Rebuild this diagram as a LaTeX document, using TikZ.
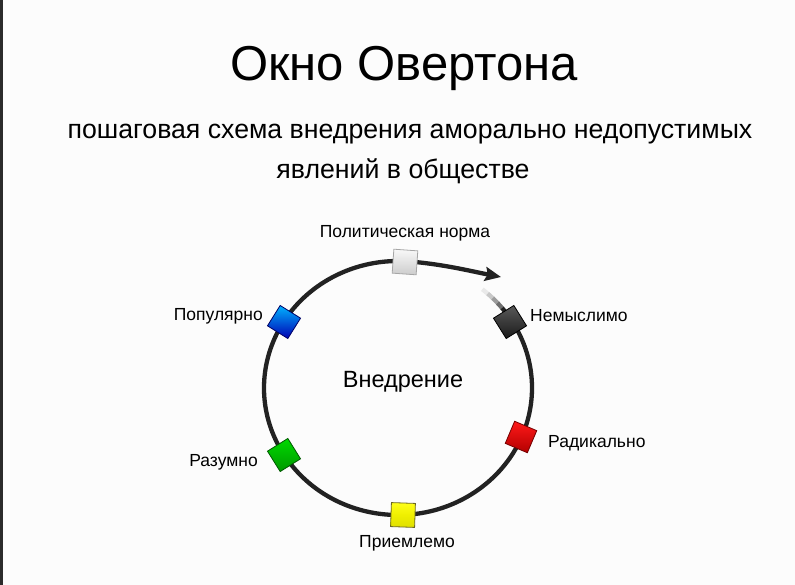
\documentclass[tikz,border=0pt]{standalone}
\usepackage{fontspec}
\setmainfont{Liberation Sans}
\usetikzlibrary{arrows.meta,positioning}
\definecolor{ringcol}{HTML}{222222}
\definecolor{pagebg}{HTML}{FCFCFC}
\definecolor{edgebar}{HTML}{2B2B2B}
\tikzset{
  sq/.style     ={rectangle,minimum size=24pt,inner sep=0pt,line width=0.8pt},
  sqGray/.style ={sq,draw=gray!70,top color=gray!5,bottom color=gray!40},
  sqBlack/.style={sq,draw=black,top color=gray!70!black,bottom color=black!90},
  sqRed/.style  ={sq,draw=red!45!black,top color=red!90,bottom color=red!70!black},
  sqYel/.style  ={sq,draw=olive!70!black,top color=yellow!90,bottom color=yellow!75!olive},
  sqGreen/.style={sq,draw=green!35!black,top color=green!85!black,bottom color=green!60!black},
  sqBlue/.style ={sq,draw=blue!40!black,top color=cyan!70!blue,bottom color=blue!70!black},
  lbl/.style    ={font=\fontsize{17.5}{20}\selectfont,inner sep=0pt},
  ring/.style   ={draw=ringcol,line width=4.3pt},
}

\begin{document}
\begin{tikzpicture}[x=1pt,y=-1pt]
% page
\fill[pagebg] (0,0) rectangle (795,585);
\fill[edgebar] (0,0) rectangle (3,585);
\useasboundingbox (0,0) rectangle (795,585);

% titles
\node[font=\fontsize{49}{56}\selectfont] (title) at (404,68) {Окно Овертона};
\node[font=\fontsize{26.7}{30}\selectfont] (sub1) at (410,134)
  {пошаговая схема внедрения аморально недопустимых};
\node[font=\fontsize{26.7}{30}\selectfont] (sub2) at (403,171)
  {явлений в обществе};

% ring, faded start
\foreach \a/\c in {-51/10,-48/25,-45/45,-42/65}
  \draw[ring,draw=ringcol!\c] (398,388) ++(\a:134 and 127)
    arc[start angle=\a,end angle=\a+3.3,x radius=134,y radius=127];
\draw[ring,-{Stealth[length=16pt,width=14pt,inset=2.5pt]}] (398,388) ++(-39:134 and 127)
  arc[start angle=-39,end angle=275,x radius=134,y radius=127]
  .. controls +(35,3) and (470,271) .. (501,277);

% steps on the ring
\node[sqBlack,rotate=32]  (nem) at (510,322) {};
\node[sqRed,rotate=-23]   (rad) at (521,437) {};
\node[sqYel,rotate=-2]    (pri) at (403,515) {};
\node[sqGreen,rotate=32]  (raz) at (284,455) {};
\node[sqBlue,rotate=-32]  (pop) at (284,322) {};
\node[sqGray,rotate=-4]   (pol) at (405,262) {};

% labels
\node[lbl, above=21pt of pol.center] {Политическая норма};
\node[lbl, right=20pt of nem.center, yshift=6pt] {Немыслимо};
\node[lbl, right=27pt of rad.center, yshift=-6pt] {Радикально};
\node[lbl, below=20pt of pri.center, xshift=4pt] {Приемлемо};
\node[lbl, left=26pt of raz.center, yshift=-7pt] {Разумно};
\node[lbl, left=21pt of pop.center, yshift=6pt] {Популярно};
\node[font=\fontsize{23.5}{27}\selectfont] (center) at (403,382) {Внедрение};

\end{tikzpicture}
\end{document}
